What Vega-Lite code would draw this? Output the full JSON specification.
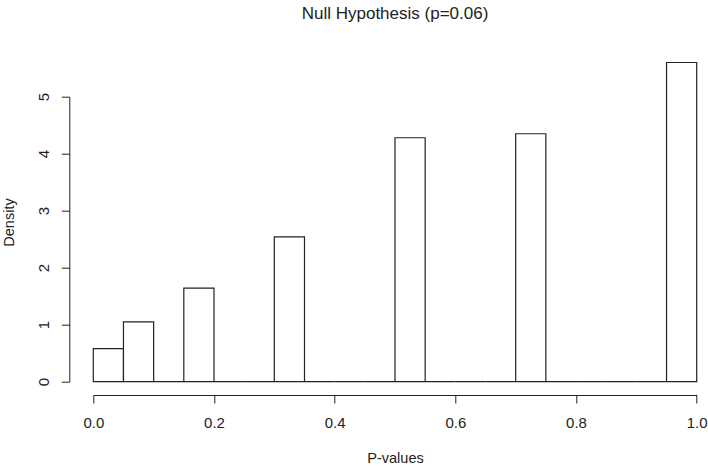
{
  "$schema": "https://vega.github.io/schema/vega-lite/v6.json",
  "autosize": "none",
  "width": 603.4,
  "height": 285,
  "padding": {"left": 93.3, "top": 96.7, "right": 11.3, "bottom": 85.3},
  "background": "white",
  "config": {
    "view": {"stroke": null},
    "font": "Liberation Sans"
  },
  "title": {
    "text": "Null Hypothesis (p=0.06)",
    "font": "Liberation Sans",
    "fontSize": 17,
    "fontWeight": "normal",
    "color": "#222",
    "anchor": "middle",
    "baseline": "alphabetic",
    "offset": 26
  },
  "data": {
    "values": [
      {"start": 0.00, "end": 0.05, "density": 0.58},
      {"start": 0.05, "end": 0.10, "density": 1.05},
      {"start": 0.10, "end": 0.15, "density": 0},
      {"start": 0.15, "end": 0.20, "density": 1.64},
      {"start": 0.20, "end": 0.25, "density": 0},
      {"start": 0.25, "end": 0.30, "density": 0},
      {"start": 0.30, "end": 0.35, "density": 2.54},
      {"start": 0.35, "end": 0.40, "density": 0},
      {"start": 0.40, "end": 0.45, "density": 0},
      {"start": 0.45, "end": 0.50, "density": 0},
      {"start": 0.50, "end": 0.55, "density": 4.28},
      {"start": 0.55, "end": 0.60, "density": 0},
      {"start": 0.60, "end": 0.65, "density": 0},
      {"start": 0.65, "end": 0.70, "density": 0},
      {"start": 0.70, "end": 0.75, "density": 4.35},
      {"start": 0.75, "end": 0.80, "density": 0},
      {"start": 0.80, "end": 0.85, "density": 0},
      {"start": 0.85, "end": 0.90, "density": 0},
      {"start": 0.90, "end": 0.95, "density": 0},
      {"start": 0.95, "end": 1.00, "density": 5.60}
    ]
  },
  "mark": {"type": "bar", "fill": "white", "stroke": "#222", "strokeWidth": 1.2, "clip": false},
  "encoding": {
    "x": {
      "field": "start",
      "type": "quantitative",
      "scale": {"domain": [0, 1], "nice": false, "zero": false},
      "axis": {
        "title": "P-values",
        "values": [0, 0.2, 0.4, 0.6, 0.8, 1.0],
        "format": ".1f",
        "grid": false,
        "offset": 13.3,
        "domainColor": "#222",
        "tickColor": "#222",
        "tickSize": 8,
        "labelFont": "Liberation Sans",
        "labelFontSize": 15,
        "labelColor": "#222",
        "labelBaseline": "alphabetic",
        "labelPadding": 24,
        "labelFlush": false,
        "titleFont": "Liberation Sans",
        "titleFontSize": 14.5,
        "titleFontWeight": "normal",
        "titleColor": "#222",
        "titleBaseline": "alphabetic",
        "titleY": 67
      }
    },
    "x2": {"field": "end"},
    "y": {
      "field": "density",
      "type": "quantitative",
      "scale": {"domain": [0, 5], "nice": false},
      "axis": {
        "title": "Density",
        "values": [0, 1, 2, 3, 4, 5],
        "grid": false,
        "offset": 24,
        "domainColor": "#222",
        "tickColor": "#222",
        "tickSize": 8,
        "labelFont": "Liberation Sans",
        "labelFontSize": 15,
        "labelColor": "#222",
        "labelAngle": 270,
        "labelAlign": "center",
        "labelBaseline": "alphabetic",
        "labelPadding": 13,
        "labelFlush": false,
        "titleFont": "Liberation Sans",
        "titleFontSize": 14.5,
        "titleFontWeight": "normal",
        "titleColor": "#222",
        "titleAngle": 270,
        "titleBaseline": "alphabetic",
        "titleX": -56,
        "titleY": 125.3
      }
    },
    "y2": {"datum": 0}
  }
}
